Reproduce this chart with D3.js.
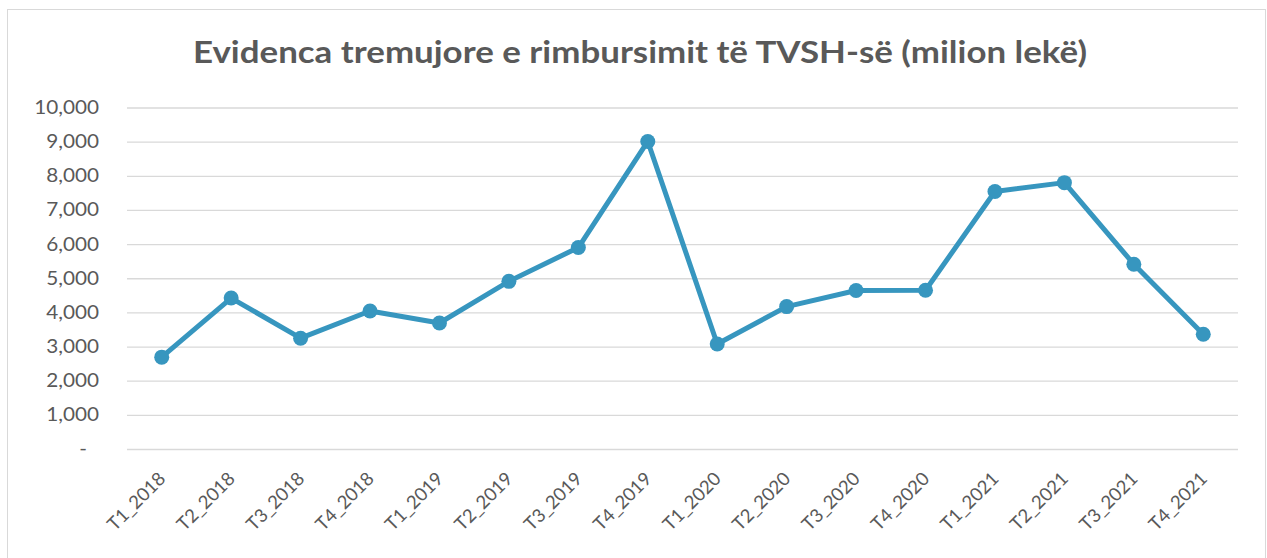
<!DOCTYPE html>
<html><head><meta charset="utf-8">
<script src="https://cdn.jsdelivr.net/npm/d3@7"></script>
<style>body{margin:0;background:#fff;}svg{display:block;}</style>
</head><body>
<svg id="c" width="1267" height="558"></svg>
<script>
const categories = ["T1_2018","T2_2018","T3_2018","T4_2018","T1_2019","T2_2019","T3_2019","T4_2019","T1_2020","T2_2020","T3_2020","T4_2020","T1_2021","T2_2021","T3_2021","T4_2021"];
const values = [2690, 4420, 3245, 4040, 3690, 4910, 5900, 9005, 3075, 4170, 4640, 4650, 7540, 7800, 5410, 3360];
const yTicks = [0,1000,2000,3000,4000,5000,6000,7000,8000,9000,10000];
const title = "Evidenca tremujore e rimbursimit të TVSH-së (milion lekë)";

const svg = d3.select("#c");
const font = "Lato, 'Open Sans', sans-serif";
svg.append("rect").attr("x",7.5).attr("y",9.5).attr("width",1258).attr("height",560).attr("fill","#fff").attr("stroke","#d9d9d9");

const x = d3.scaleBand().domain(categories).range([127,1238]);
const y = d3.scaleLinear().domain([0,10000]).range([449,107.5]);

svg.append("text").attr("x",640).attr("y",63).attr("text-anchor","middle")
  .attr("font-family",font).attr("font-weight","bold").attr("font-size",30)
  .attr("textLength",894).attr("lengthAdjust","spacingAndGlyphs")
  .attr("fill","#595959").text(title);

const gy = svg.append("g").attr("transform","translate(127,0)")
  .call(d3.axisLeft(y).tickValues(yTicks).tickSize(-1111).tickFormat(d => d===0 ? "-" : d3.format(",")(d)));
gy.select(".domain").remove();
gy.selectAll(".tick line").attr("stroke","#d9d9d9").attr("stroke-width",1.3);
gy.selectAll(".tick text").attr("x",0).attr("font-family",font).attr("font-size",18.5).attr("fill","#595959")
  .attr("transform", d => d===0 ? "translate(-40,0) scale(1.12,1)" : "translate(-28,0) scale(1.12,1)");

const gx = svg.append("g").attr("transform","translate(0,449)")
  .call(d3.axisBottom(x).tickSize(0));
gx.select(".domain").remove();
gx.selectAll(".tick text").attr("font-family",font).attr("font-size",18.5).attr("fill","#595959")
  .attr("text-anchor","end").attr("dy",0).attr("y",0).attr("x",0).attr("transform","translate(5,31) rotate(-45)");

const cx = d => x(d) + x.bandwidth()/2;
const line = d3.line().x((d,i)=>cx(categories[i])).y(d=>y(d));
svg.append("path").datum(values).attr("d",line).attr("fill","none").attr("stroke","#3796bf").attr("stroke-width",5).attr("stroke-linejoin","round");
svg.selectAll("circle.pt").data(values).enter().append("circle").attr("class","pt")
  .attr("cx",(d,i)=>cx(categories[i])).attr("cy",d=>y(d)).attr("r",7.5).attr("fill","#3796bf");
</script>
</body></html>
